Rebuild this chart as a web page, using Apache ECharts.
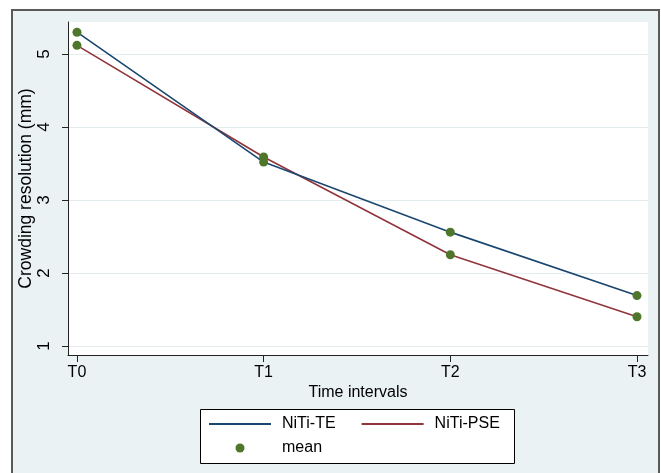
<!DOCTYPE html>
<html>
<head>
<meta charset="utf-8">
<script src="https://cdn.jsdelivr.net/npm/echarts@6/dist/echarts.min.js"></script>
<style>
html,body{margin:0;padding:0;background:#fff;}
#frame{position:absolute;left:11px;top:9px;width:645px;height:470px;border:2px solid #5a5a5a;background:#eaf2f3;box-sizing:content-box;}
#chart{position:absolute;left:0;top:0;width:661px;height:473px;}
</style>
</head>
<body>
<div id="frame"></div>
<div id="chart"></div>
<script>
// Data
var categories = ['T0', 'T1', 'T2', 'T3'];
var nitiTE = [5.30, 3.52, 2.56, 1.69];
var nitiPSE = [5.12, 3.59, 2.25, 1.40];
var yTicks = [1, 2, 3, 4, 5];
var xTicks = [0, 1, 2, 3];

var FONT = "'Liberation Sans', Arial, Helvetica, sans-serif";

function toPairs(vals) {
  return vals.map(function (v, i) { return [i, v]; });
}
var meanPts = toPairs(nitiTE).concat(toPairs(nitiPSE));

var chart = echarts.init(document.getElementById('chart'), null, { renderer: 'canvas' });
chart.setOption({
  backgroundColor: 'transparent',
  animation: false,
  textStyle: { fontFamily: FONT },
  grid: {
    left: 68, right: 13, top: 22, bottom: 118,
    show: true, backgroundColor: '#ffffff', borderWidth: 0
  },
  graphic: [{
    type: 'rect', z: 1,
    shape: { x: 200.5, y: 409.5, width: 314, height: 54 },
    style: { fill: '#ffffff', stroke: '#000000', lineWidth: 1 }
  }],
  legend: {
    left: 208, top: 416, width: 320,
    padding: 0, itemGap: 8,
    itemWidth: 62, itemHeight: 9,
    data: [
      { name: 'NiTi-TE', itemStyle: { opacity: 0 } },
      { name: 'NiTi-PSE', itemStyle: { opacity: 0 } },
      { name: 'mean', icon: 'circle' }
    ],
    textStyle: { fontFamily: FONT, fontSize: 16, color: '#000', padding: [0, 17, 0, 6], lineHeight: 16 }
  },
  xAxis: {
    type: 'value', min: -0.048, max: 3.059,
    name: 'Time intervals', nameLocation: 'middle', nameGap: 30, nameMoveOverlap: false,
    nameTextStyle: { fontFamily: FONT, fontSize: 16, color: '#000' },
    axisLine: { show: true, onZero: false, lineStyle: { color: '#222', width: 1 } },
    axisTick: { show: true, length: 7, customValues: xTicks, lineStyle: { color: '#222' } },
    axisLabel: {
      customValues: xTicks, margin: 10,
      fontFamily: FONT, fontSize: 16, color: '#000',
      formatter: function (v) { return categories[Math.round(v)]; }
    },
    splitLine: { show: false }
  },
  yAxis: {
    type: 'value', min: 0.876, max: 5.44,
    name: 'Crowding resolution (mm)', nameLocation: 'middle', nameGap: 33, nameMoveOverlap: false,
    nameTextStyle: { fontFamily: FONT, fontSize: 17.5, color: '#000' },
    axisLine: { show: true, onZero: false, lineStyle: { color: '#222', width: 1 } },
    axisTick: { show: true, length: 6, customValues: yTicks, lineStyle: { color: '#222' } },
    axisLabel: {
      customValues: yTicks, margin: 15, rotate: 90,
      fontFamily: FONT, fontSize: 17, color: '#000'
    },
    splitLine: { show: true, lineStyle: { color: '#e3ecef', width: 1 } }
  },
  series: [
    {
      name: 'NiTi-PSE', type: 'line', data: toPairs(nitiPSE),
      symbol: 'none', color: '#90353b',
      lineStyle: { color: '#90353b', width: 1.6 }, z: 2
    },
    {
      name: 'NiTi-TE', type: 'line', data: toPairs(nitiTE),
      symbol: 'none', color: '#1a476f',
      lineStyle: { color: '#1a476f', width: 1.6 }, z: 3
    },
    {
      name: 'mean', type: 'scatter', data: meanPts,
      symbol: 'circle', symbolSize: 9,
      itemStyle: { color: '#4f772b', opacity: 1 }, z: 4
    }
  ]
});
</script>
</body>
</html>
